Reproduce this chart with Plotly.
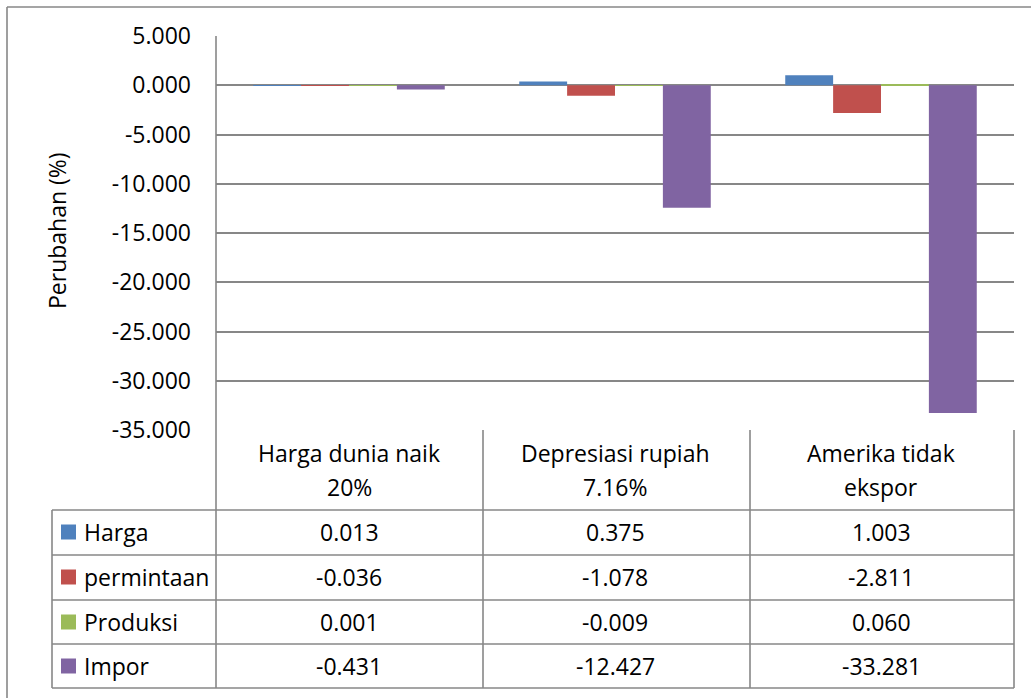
import plotly.graph_objects as go

# Scenario categories (two-line labels in the data table)
categories = ["Harga dunia naik<br>20%", "Depresiasi rupiah<br>7.16%", "Amerika tidak<br>ekspor"]
series_names = ["Harga", "permintaan", "Produksi", "Impor"]
harga = [0.013, 0.375, 1.003]
permintaan = [-0.036, -1.078, -2.811]
produksi = [0.001, -0.009, 0.060]
impor = [-0.431, -12.427, -33.281]
series_values = [harga, permintaan, produksi, impor]
colors = ["#4F81BD", "#C0504D", "#9BBB59", "#8064A2"]

tick_values = [5, 0, -5, -10, -15, -20, -25, -30, -35]
tick_labels = ["5.000", "0.000", "-5.000", "-10.000", "-15.000", "-20.000", "-25.000", "-30.000", "-35.000"]

W, H = 1031, 698
L, R, T, B = 216, 1014, 36, 430  # plot area in pixels
FONT = "Open Sans"
FS = 23
GRID = "#878787"


def px(x):
    return (x - L) / (R - L)


def py(y):
    return (B - y) / (B - T)


fig = go.Figure()
xs = list(range(len(categories)))
for name, vals, col in zip(series_names, series_values, colors):
    fig.add_trace(go.Bar(x=xs, y=vals, name=name, marker=dict(color=col, line=dict(width=0))))

shapes = []
line = dict(color=GRID, width=1.6)
# outer chart border (left and top)
shapes.append(dict(type="line", xref="paper", yref="paper", x0=px(7), x1=px(W + 5), y0=py(7), y1=py(7), line=line))
shapes.append(dict(type="line", xref="paper", yref="paper", x0=px(7), x1=px(7), y0=py(7), y1=py(H + 5), line=line))
# data table grid
row_lines = [510, 555, 600, 644, 688]
col_lines = [216, 483, 750, 1014]
for y in row_lines:
    shapes.append(dict(type="line", xref="paper", yref="paper", x0=px(52), x1=px(1014), y0=py(y), y1=py(y), line=line))
for x in col_lines:
    shapes.append(dict(type="line", xref="paper", yref="paper", x0=px(x), x1=px(x), y0=py(T if x == 216 else 430), y1=py(688), line=line))
shapes.append(dict(type="line", xref="paper", yref="paper", x0=px(52), x1=px(52), y0=py(510), y1=py(688), line=line))

annotations = []
txt_font = dict(family=FONT, size=FS, color="#000")
row_centers = [532, 577, 622, 666]
for i, (name, vals, col) in enumerate(zip(series_names, series_values, colors)):
    yc = row_centers[i]
    shapes.append(dict(type="rect", xref="paper", yref="paper", x0=px(61), x1=px(76), y0=py(yc - 7.5), y1=py(yc + 7.5),
                       fillcolor=col, line=dict(width=0)))
    annotations.append(dict(xref="paper", yref="paper", x=px(82), y=py(yc), text=name, showarrow=False,
                            xanchor="left", yanchor="middle", font=txt_font))
    for j, v in enumerate(vals):
        annotations.append(dict(xref="x", yref="paper", x=j, y=py(yc), text=f"{v:.3f}", showarrow=False,
                                xanchor="center", yanchor="middle", font=txt_font))
# category headers, one annotation per text line
header_lines_y = [453, 487]
for j, c in enumerate(categories):
    for k, part in enumerate(c.split("<br>")):
        annotations.append(dict(xref="x", yref="paper", x=j, y=py(header_lines_y[k]), text=part, showarrow=False,
                                xanchor="center", yanchor="middle", font=txt_font))
annotations.append(dict(xref="paper", yref="paper", x=px(57), y=py(231), text="Perubahan (%)", textangle=-90,
                        showarrow=False, xanchor="center", yanchor="middle", font=txt_font))

fig.update_layout(
    width=W, height=H,
    margin=dict(l=L, r=W - R, t=T, b=H - B, pad=0),
    paper_bgcolor="white", plot_bgcolor="white",
    barmode="group", bargap=0.28, bargroupgap=0,
    showlegend=False,
    shapes=shapes, annotations=annotations,
    font=txt_font,
)
fig.update_xaxes(range=[-0.5, 2.5], showticklabels=False, showgrid=False, zeroline=False, showline=False)
fig.update_yaxes(range=[-35, 5], tickvals=tick_values, ticktext=tick_labels, showgrid=True, gridcolor=GRID,
                 gridwidth=1.6, zeroline=True, zerolinecolor=GRID, zerolinewidth=1.6, showline=False,
                 ticks="", ticklabelstandoff=24, tickfont=txt_font)

fig.write_html("out.html")
